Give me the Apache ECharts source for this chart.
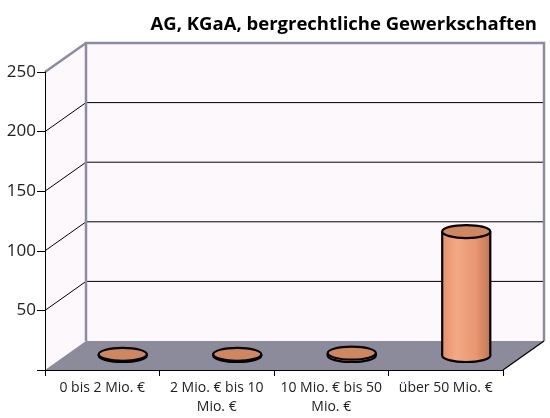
<!DOCTYPE html>
<html lang="de">
<head>
    <meta charset="UTF-8">
    <title>AG, KGaA, bergrechtliche Gewerkschaften</title>
    <script src="https://cdn.jsdelivr.net/npm/echarts@6/dist/echarts.min.js"></script>
    <style>
        html, body { margin: 0; padding: 0; background: #fff; }
    </style>
</head>
<body>
<div id="main" style="width: 550px;height:418px;"></div>

<script type="text/javascript">
    // Daten
    var categories = ['0 bis 2 Mio. €', '2 Mio. € bis 10 Mio. €', '10 Mio. € bis 50 Mio. €', 'über 50 Mio. €'];
    var values = [1, 1, 2, 104];
    var yTicks = [0, 50, 100, 150, 200, 250];
    var labelLines = {
        '2 Mio. € bis 10 Mio. €': '2 Mio. € bis 10\nMio. €',
        '10 Mio. € bis 50 Mio. €': '10 Mio. € bis 50\nMio. €'
    };

    // 3D-Tiefe (Versatz der Rückwand)
    var DX = 41, DY = -29;
    var FONT = 'Open Sans';

    var myChart = echarts.init(document.getElementById('main'));

    function renderWalls(params, api) {
        var cs = params.coordSys;
        var x0 = cs.x, x1 = cs.x + cs.width;
        var yTop = cs.y, yBot = cs.y + cs.height;
        var edge = { stroke: '#8c8ca0', lineWidth: 2.5, fill: null };
        var thin = { stroke: '#000', lineWidth: 1, fill: null };
        var kids = [];
        // Rückwand + Seitenwand
        kids.push({ type: 'polygon', shape: { points: [[x0 + DX, yTop + DY], [x1 + DX, yTop + DY], [x1 + DX, yBot + DY], [x0 + DX, yBot + DY]] },
            style: { fill: '#fdf8fb' } });
        kids.push({ type: 'polygon', shape: { points: [[x0, yTop], [x0 + DX, yTop + DY], [x0 + DX, yBot + DY], [x0, yBot]] },
            style: { fill: '#fdf8fb' } });
        // Gitterlinien
        yTicks.forEach(function (v) {
            if (v === 0) return;
            var y = api.coord([0, v])[1];
            var st = v === yTicks[yTicks.length - 1] ? edge : thin;
            kids.push({ type: 'line', shape: { x1: x0, y1: y, x2: x0 + DX, y2: y + DY }, style: st });
            if (v !== yTicks[yTicks.length - 1]) {
                kids.push({ type: 'line', shape: { x1: x0 + DX, y1: y + DY, x2: x1 + DX, y2: y + DY }, style: thin });
            }
        });
        // Rahmen der Rückwand
        kids.push({ type: 'polyline', shape: { points: [[x0 + DX, yBot + DY], [x0 + DX, yTop + DY], [x1 + DX, yTop + DY], [x1 + DX, yBot + DY]] },
            style: edge });
        // Boden
        kids.push({ type: 'polygon', shape: { points: [[x0, yBot], [x1, yBot], [x1 + DX, yBot + DY], [x0 + DX, yBot + DY]] },
            style: { fill: '#8b8b9b' } });
        kids.push({ type: 'line', shape: { x1: x1, y1: yBot, x2: x1 + DX, y2: yBot + DY }, style: { stroke: '#000', lineWidth: 1.2 } });
        return { type: 'group', children: kids };
    }

    function renderCylinder(params, api) {
        var i = api.value(0);
        var base = api.coord([i, 0]);
        var top = api.coord([i, api.value(1)]);
        var w = api.size([1, 0])[0] * 0.42;
        var rx = w / 2, ry = 6.5;
        var cx = base[0] + DX / 2;
        var yb = base[1] + DY / 2;
        var yt = top[1] + DY / 2;
        var bodyFill = new echarts.graphic.LinearGradient(0, 0, 1, 0, [
            { offset: 0, color: '#e8916a' },
            { offset: 0.3, color: '#f3a985' },
            { offset: 0.7, color: '#e99671' },
            { offset: 1, color: '#c27654' }
        ]);
        var kids = [];
        kids.push({ type: 'ellipse', shape: { cx: cx, cy: yb, rx: rx, ry: ry }, style: { fill: bodyFill, stroke: '#000', lineWidth: 2.2 } });
        if (yb - yt > 0.5) {
            kids.push({ type: 'rect', shape: { x: cx - rx, y: yt, width: w, height: yb - yt }, style: { fill: bodyFill } });
            kids.push({ type: 'line', shape: { x1: cx - rx, y1: yt, x2: cx - rx, y2: yb }, style: { stroke: '#000', lineWidth: 2.2 } });
            kids.push({ type: 'line', shape: { x1: cx + rx, y1: yt, x2: cx + rx, y2: yb }, style: { stroke: '#000', lineWidth: 2.2 } });
        }
        kids.push({ type: 'ellipse', shape: { cx: cx, cy: yt, rx: rx, ry: ry }, style: { fill: '#d0875f', stroke: '#000', lineWidth: 2.2 } });
        return { type: 'group', children: kids };
    }

    var option = {
        animation: false,
        title: {
            text: 'AG, KGaA, bergrechtliche Gewerkschaften',
            right: 8,
            top: 10,
            textStyle: { fontFamily: FONT, fontSize: 18.5, fontWeight: 'bold', color: '#000' }
        },
        grid: { left: 45, top: 72, width: 458, height: 298 },
        xAxis: {
            type: 'category',
            data: categories,
            z: 5,
            axisLine: { lineStyle: { color: '#000', width: 1 } },
            axisTick: { show: true, length: 6, lineStyle: { color: '#000' } },
            axisLabel: {
                interval: 0,
                margin: 9,
                color: '#222',
                fontFamily: FONT,
                fontSize: 14,
                lineHeight: 19,
                formatter: function (v) { return labelLines[v] || v; }
            }
        },
        yAxis: {
            type: 'value',
            min: yTicks[0],
            max: yTicks[yTicks.length - 1],
            interval: 50,
            z: 5,
            axisLine: { show: true, lineStyle: { color: '#000', width: 1 } },
            axisTick: { show: true, length: 8, lineStyle: { color: '#000' } },
            splitLine: { show: false },
            axisLabel: {
                margin: 9,
                color: '#222',
                fontFamily: FONT,
                fontSize: 17,
                formatter: function (v) { return v === 0 ? '' : v; }
            }
        },
        series: [
            {
                type: 'custom',
                z: 1,
                silent: true,
                renderItem: renderWalls,
                data: [[0, 0]]
            },
            {
                type: 'custom',
                z: 6,
                renderItem: renderCylinder,
                data: values.map(function (v, i) { return [i, v]; })
            }
        ]
    };
    myChart.setOption(option);
</script>
</body>
</html>
